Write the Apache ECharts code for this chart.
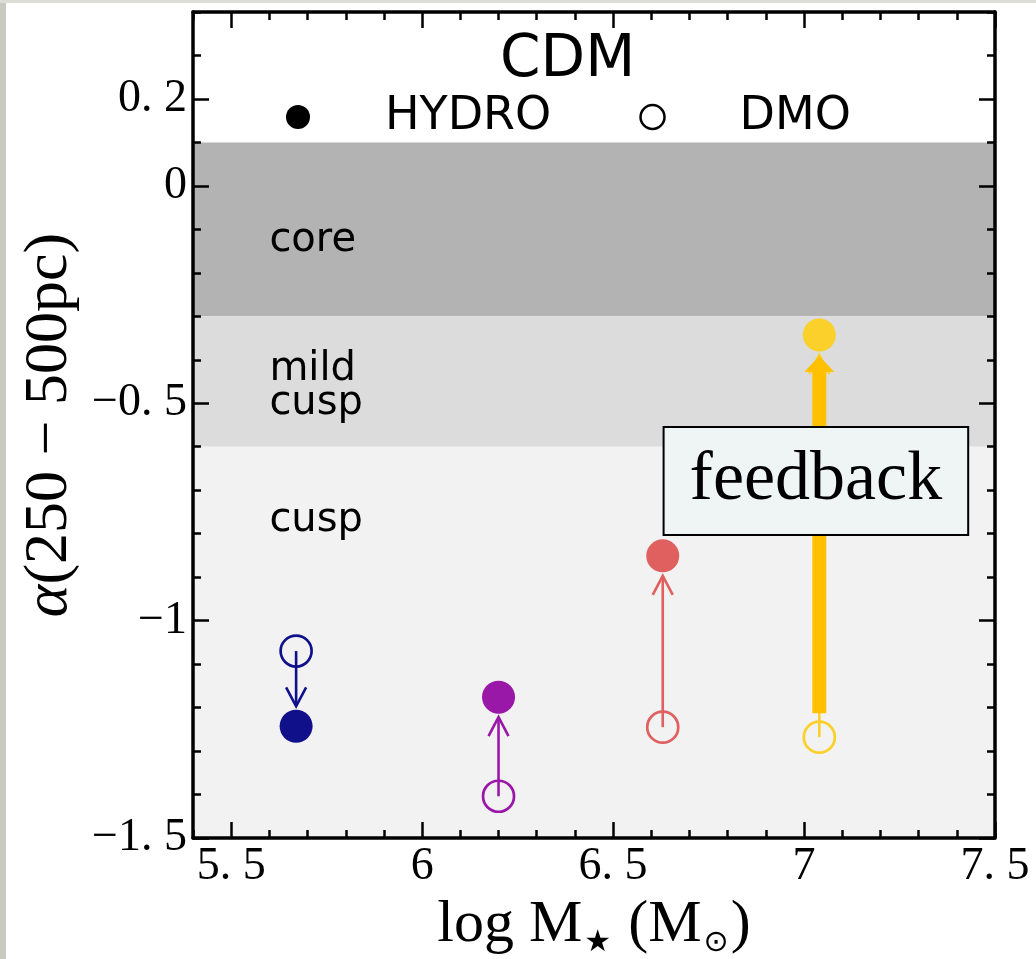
<!DOCTYPE html>
<html>
<head>
<meta charset="utf-8">
<script src="https://cdn.jsdelivr.net/npm/echarts@6/dist/echarts.min.js"></script>
<style>
  html, body { margin: 0; padding: 0; background: #fff; }
  #chart { width: 1036px; height: 959px; }
  #edgeL { position: absolute; left: 0; top: 0; width: 6px; height: 959px; background: #c8c9c1; }
  #edgeT { position: absolute; left: 0; top: 0; width: 1036px; height: 3px; background: #dcddd6; }
</style>
</head>
<body>
<div id="chart"></div>
<div id="edgeL"></div>
<div id="edgeT"></div>
<script>
// ---- data ----
const logMstar   = [5.67, 6.20, 6.63, 7.04];
const alphaHydro = [-1.243, -1.176, -0.851, -0.343];
const alphaDMO   = [-1.070, -1.404, -1.245, -1.268];
const feedbackIndex = [3];

const xTickValues = [5.5, 6, 6.5, 7, 7.5];
const xTickLabels = ['5. 5', '6', '6. 5', '7', '7. 5'];
const yTickValues = [0.2, 0, -0.5, -1, -1.5];
const yTickLabels = ['0. 2', '0', '\u22120. 5', '\u22121', '\u22121. 5'];

const bandEdges  = [[0.1, -0.3], [-0.3, -0.6], [-0.6, -1.5]];
const bandTexts  = ['core', 'mild\ncusp', 'cusp'];
const bandTextY  = [-0.125, -0.462, -0.769];

// ---- styles ----
const galaxyColors = ['#10108a', '#9a18a8', '#e06060', '#fbd02a'];
const bandColors = ['#b3b3b3', '#dcdcdc', '#f2f2f2'];
const X_MIN = 5.4, X_MAX = 7.5, Y_MIN = -1.5, Y_MAX = 0.4;
const serif = 'Liberation Serif';
const sans = 'DejaVu Sans';

function labelFor(values, labels) {
  return function (v) {
    for (let i = 0; i < values.length; i++) if (Math.abs(values[i] - v) < 1e-6) return labels[i];
    return '';
  };
}

function axisBase(extra) {
  const o = Object.assign({
    type: 'value', z: 10, splitLine: { show: false }, axisPointer: { show: false }
  }, extra);
  o.axisLine = Object.assign({ onZero: false }, o.axisLine || {});
  return o;
}
const frameLine = { color: '#000', width: 3.5 };
const tickMajor = (vals) => ({ show: true, inside: true, length: 16, lineStyle: { color: '#000', width: 2.5 }, customValues: vals });
const tickMinor = { show: true, inside: true, length: 8, lineStyle: { color: '#000', width: 2.5 } };

const chart = echarts.init(document.getElementById('chart'), null, { renderer: 'canvas' });

const option = {
  animation: false,
  backgroundColor: '#fff',
  title: {
    text: 'CDM', left: 495, top: 27,
    textStyle: { fontSize: 58, fontFamily: sans, fontWeight: 'normal', color: '#000', lineHeight: 58 }
  },
  legend: {
    left: 281, top: 89, itemWidth: 24, itemHeight: 24, itemGap: 88,
    textStyle: { fontSize: 46, fontFamily: sans, color: '#000', padding: [0, 0, 0, 70], lineHeight: 46 },
    data: [
      { name: 'HYDRO', icon: 'circle', itemStyle: { color: '#000', borderWidth: 0, opacity: 1 } },
      { name: 'DMO', icon: 'circle', itemStyle: { color: '#fff', borderColor: '#000', borderWidth: 2.5, opacity: 1 } }
    ],
    selectedMode: false
  },
  grid: { left: 193, top: 12, right: 41, bottom: 121, containLabel: false, outerBoundsMode: 'none' },
  xAxis: [
    axisBase({
      min: X_MIN, max: X_MAX, position: 'bottom',
      axisLine: { show: true, lineStyle: frameLine }, axisTick: tickMajor(xTickValues),
      axisLabel: { customValues: xTickValues, formatter: labelFor(xTickValues, xTickLabels), fontSize: 46, fontFamily: serif, color: '#000', margin: 6 },
      name: '{a|log M}{s|\u2605}{a| (M}{s|\u2299}{a|)}', nameLocation: 'middle', nameGap: 50,
      nameTextStyle: {
        rich: {
          a: { fontSize: 60, fontFamily: serif, color: '#000', lineHeight: 66 },
          s: { fontSize: 30, fontFamily: 'DejaVu Sans', color: '#000', lineHeight: 66, verticalAlign: 'bottom', padding: [16, 2, 0, 2] }
        }
      }
    }),
    axisBase({ min: X_MIN, max: X_MAX, position: 'bottom', interval: 0.1, axisLine: { show: false }, axisTick: tickMinor, axisLabel: { show: false } }),
    axisBase({ min: X_MIN, max: X_MAX, position: 'top', axisLine: { show: true, lineStyle: frameLine }, axisTick: tickMajor(xTickValues), axisLabel: { show: false } }),
    axisBase({ min: X_MIN, max: X_MAX, position: 'top', interval: 0.1, axisLine: { show: false }, axisTick: tickMinor, axisLabel: { show: false } })
  ],
  yAxis: [
    axisBase({
      min: Y_MIN, max: Y_MAX, position: 'left',
      axisLine: { show: true, lineStyle: frameLine }, axisTick: tickMajor(yTickValues),
      axisLabel: { customValues: yTickValues, formatter: labelFor(yTickValues, yTickLabels), fontSize: 46, fontFamily: serif, color: '#000', margin: 6 },
      name: '{i|\u03b1}{a|(250 \u2212 500pc)}', nameLocation: 'middle', nameGap: 108, nameRotate: 90,
      nameTextStyle: {
        rich: {
          i: { fontSize: 62, fontFamily: serif, fontStyle: 'italic', color: '#000', lineHeight: 70 },
          a: { fontSize: 62, fontFamily: serif, color: '#000', lineHeight: 70 }
        }
      }
    }),
    axisBase({ min: Y_MIN, max: Y_MAX, position: 'left', interval: 0.1, axisLine: { show: false }, axisTick: tickMinor, axisLabel: { show: false } }),
    axisBase({ min: Y_MIN, max: Y_MAX, position: 'right', axisLine: { show: true, lineStyle: frameLine }, axisTick: tickMajor(yTickValues), axisLabel: { show: false } }),
    axisBase({ min: Y_MIN, max: Y_MAX, position: 'right', interval: 0.1, axisLine: { show: false }, axisTick: tickMinor, axisLabel: { show: false } })
  ],
  series: [
    {
      type: 'custom', name: 'bands', z: 0, silent: true,
      data: bandEdges.map((e, i) => [X_MIN, e[0], e[1], i]),
      renderItem: function (params, api) {
        const i = api.value(3);
        const p0 = api.coord([X_MIN, api.value(1)]);
        const p1 = api.coord([X_MAX, api.value(2)]);
        return { type: 'rect', shape: { x: p0[0], y: p0[1], width: p1[0] - p0[0], height: p1[1] - p0[1] }, style: { fill: bandColors[i] } };
      }
    },
    {
      type: 'custom', name: 'bandLabels', z: 5, silent: true,
      data: bandTexts.map((t, i) => [5.6, bandTextY[i], i]),
      renderItem: function (params, api) {
        const i = api.value(2);
        const p = api.coord([api.value(0), api.value(1)]);
        return { type: 'text', x: p[0], y: p[1], style: { text: bandTexts[i], font: '40px "DejaVu Sans"', fill: '#000', align: 'left', verticalAlign: 'middle', lineHeight: 34 } };
      }
    },
    {
      type: 'scatter', name: 'DMO', z: 2, symbol: 'circle', symbolSize: 31,
      itemStyle: { color: 'rgba(0,0,0,0)', borderColor: '#000', borderWidth: 2.7, opacity: 1 },
      data: logMstar.map((x, i) => ({ value: [x, alphaDMO[i]], itemStyle: { color: 'rgba(0,0,0,0)', borderColor: galaxyColors[i], borderWidth: 2.7, opacity: 1 } }))
    },
    {
      type: 'custom', name: 'arrows', z: 3, silent: true,
      data: logMstar.map((x, i) => [x, alphaDMO[i], alphaHydro[i], i]),
      renderItem: function (params, api) {
        const i = api.value(3);
        const s = api.coord([api.value(0), api.value(1)]);
        const e = api.coord([api.value(0), api.value(2)]);
        const dir = e[1] > s[1] ? 1 : -1;
        const tip = [e[0], e[1] - dir * 20];
        const c = galaxyColors[i];
        return {
          type: 'group', children: [
            { type: 'line', shape: { x1: s[0], y1: s[1], x2: tip[0], y2: tip[1] - dir * 1 }, style: { stroke: c, lineWidth: 2.6 } },
            { type: 'polyline', shape: { points: [[tip[0] - 10, tip[1] - dir * 19], [tip[0], tip[1]], [tip[0] + 10, tip[1] - dir * 19]] }, style: { stroke: c, lineWidth: 2.6, fill: null } }
          ]
        };
      }
    },
    {
      type: 'custom', name: 'feedbackArrow', z: 3.5, silent: true,
      data: feedbackIndex.map(i => [logMstar[i], alphaDMO[i], alphaHydro[i]]),
      renderItem: function (params, api) {
        const s = api.coord([api.value(0), api.value(1)]);
        const e = api.coord([api.value(0), api.value(2)]);
        const dir = e[1] > s[1] ? 1 : -1;
        const tipY = e[1] - dir * 21;
        const baseY = tipY - dir * 16;
        const startY = s[1] + dir * 24;
        return {
          type: 'group', children: [
            { type: 'rect', shape: { x: s[0] - 7, y: Math.min(startY, baseY), width: 14, height: Math.abs(startY - baseY) }, style: { fill: '#ffc000' } },
            { type: 'polygon', shape: { points: [[e[0], tipY], [e[0] - 15, baseY], [e[0] + 15, baseY]] }, style: { fill: '#ffc000' } }
          ]
        };
      }
    },
    {
      type: 'scatter', name: 'HYDRO', z: 4, symbol: 'circle', symbolSize: 33,
      itemStyle: { color: '#000', opacity: 1 },
      data: logMstar.map((x, i) => ({ value: [x, alphaHydro[i]], itemStyle: { color: galaxyColors[i], opacity: 1 } }))
    },
    {
      type: 'custom', name: 'feedbackLabel', z: 6, silent: true,
      data: [[7.031, -0.679]],
      renderItem: function (params, api) {
        const p = api.coord([api.value(0), api.value(1)]);
        return {
          type: 'text', x: p[0], y: p[1],
          style: {
            text: 'feedback', font: '70px "Liberation Serif"', fill: '#000', align: 'center', verticalAlign: 'middle',
            lineHeight: 70, backgroundColor: '#eff5f5', borderColor: '#000', borderWidth: 2, padding: [18, 25, 18, 25]
          }
        };
      }
    }
  ]
};
chart.setOption(option);
</script>
</body>
</html>
